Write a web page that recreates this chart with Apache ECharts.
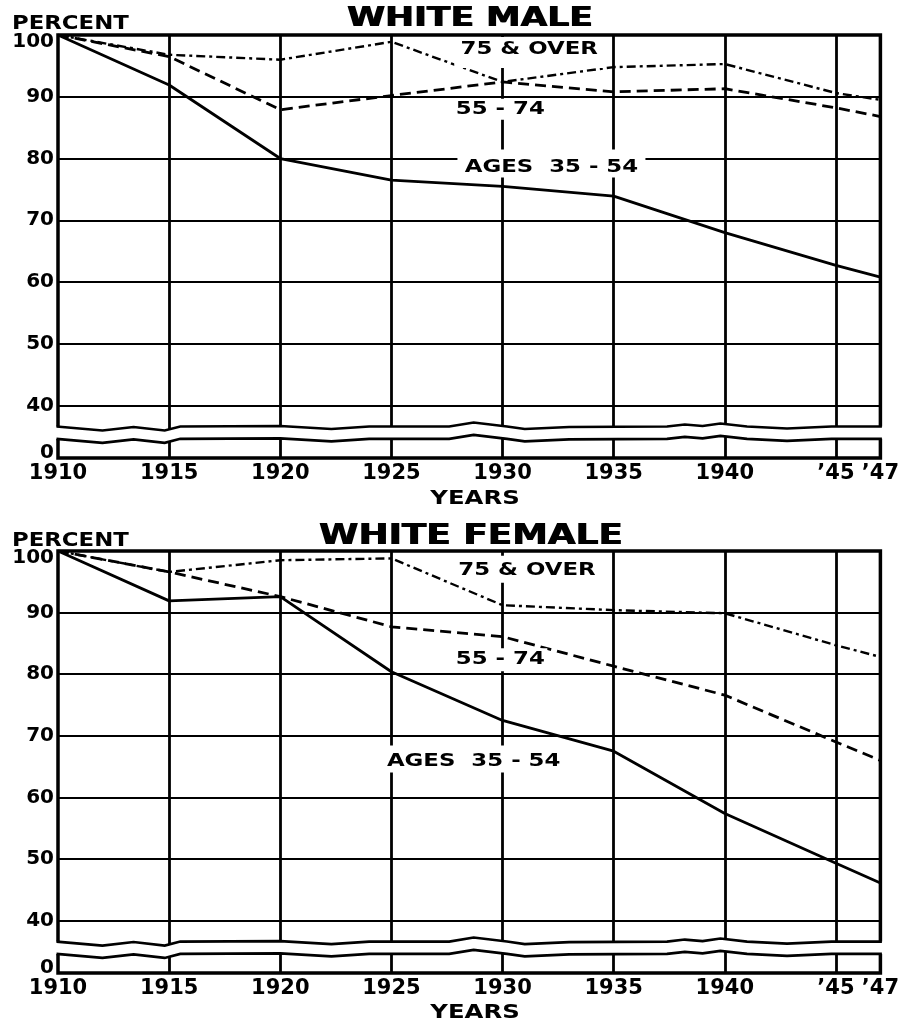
<!DOCTYPE html>
<html><head><meta charset="utf-8">
<script src="https://cdn.jsdelivr.net/npm/echarts@6/dist/echarts.min.js"></script>
<style>html,body{margin:0;padding:0;background:#fff}#c{width:902px;height:1029px}</style>
</head><body><div id="c"></div>
<script>
// ---- data ----
const years = [1910, 1915, 1920, 1925, 1930, 1935, 1940, 1945, 1947];
const maleAges35to54 = [100, 91.9, 80.0, 76.5, 75.5, 73.9, 68.0, 62.7, 60.8];
const male55to74     = [100, 96.5, 87.9, 90.2, 92.4, 90.8, 91.3, 88.2, 86.8];
const male75over     = [100, 96.8, 96.0, 98.9, 92.4, 94.8, 95.3, 90.6, 89.5];
const femaleAges35to54 = [100, 91.9, 92.6, 80.4, 72.5, 67.5, 57.4, 49.3, 46.1];
const female55to74     = [100, 96.6, 92.6, 87.7, 86.1, 81.3, 76.6, 69.0, 66.0];
const female75over     = [100, 96.6, 98.5, 98.8, 91.2, 90.4, 89.9, 84.7, 82.8];

const xTickValues = [1910, 1915, 1920, 1925, 1930, 1935, 1940, 1945, 1947];
const xTickLabels = ['1910', '1915', '1920', '1925', '1930', '1935', '1940', '\u201945', '\u201947'];
const yGridValues = [40, 50, 60, 70, 80, 90];
const yTickLabels = ['0', '40', '50', '60', '70', '80', '90', '100'];
const panelTitles = ['WHITE MALE', 'WHITE FEMALE'];
const groupNames = ['75 & OVER', '55 - 74', 'AGES  35 - 54'];
const yAxisTitle = 'PERCENT';
const xAxisTitle = 'YEARS';

// label anchors (in data units) and white knock-out boxes (pixels relative to anchor: halfWidth, above, below)
const maleLabelAnchors = [[1931.2, 97.8], [1929.9, 88.2], [1932.2, 78.7]];
const femaleLabelAnchors = [[1931.1, 97.1], [1929.9, 82.6], [1928.7, 66.0]];
const maleLabelBoxes = [[75, 11.5, 19.5], [47, 9, 12], [94, 17, 11]];
const femaleLabelBoxes = [[75, 13, 14], [47, 10, 13], [94, 15, 12]];
const breakProfile = [[1910,0],[1912,4],[1913.4,0.5],[1914.8,4],[1915.5,0],[1920,-0.5],[1922.3,2.5],[1924,0],[1927.6,0],[1928.7,-4],[1930.2,0],[1931,2.5],[1933,0.5],[1937.4,0],[1938.2,-2],[1939,-0.5],[1939.8,-3],[1941,0],[1942.8,2],[1944.8,0],[1947,0]];
const breakTop = 36.6, breakBottom = 34.6;

const yMin = 31.5, yMax = 100;
const yLabelValues = [32.4, 40, 50, 60, 70, 80, 90, 98.9];

const chart = echarts.init(document.getElementById('c'), null, {renderer: 'canvas'});
const FONT = '"DejaVu Sans", "Liberation Sans", sans-serif';

function pairs(xs, ys) { return xs.map((x, i) => [x, ys[i]]); }

function makeX(gi) {
  return {
    gridIndex: gi, type: 'value', min: 1910, max: 1947,
    axisLine: {show: false},
    axisTick: {show: false, customValues: xTickValues.slice(1, -1)},
    splitLine: {show: true, lineStyle: {color: '#000', width: 2.8}},
    axisLabel: {
      customValues: xTickValues,
      formatter: v => xTickLabels[xTickValues.indexOf(Math.round(v))] || '',
      fontFamily: FONT, fontWeight: 'bold', fontSize: 21, color: '#000', margin: 5
    }
  };
}
function makeY(gi) {
  return {
    gridIndex: gi, type: 'value', min: yMin, max: yMax,
    axisLine: {show: false},
    axisTick: {show: false, customValues: yGridValues},
    splitLine: {show: true, lineStyle: {color: '#000', width: 2.2}},
    axisLabel: {
      customValues: yLabelValues,
      formatter: v => { let i = yLabelValues.findIndex(t => Math.abs(t - v) < 0.01); return i >= 0 ? yTickLabels[i] : ''; },
      fontFamily: FONT, fontWeight: 'bold', fontSize: 20, color: '#000', margin: 4
    }
  };
}

function lineSeries(gi, data, kind) {
  const ls = {color: '#000', width: 2.8, type: 'solid'};
  if (kind === 'dash') { ls.type = [11, 6]; ls.width = 2.8; }
  if (kind === 'dashdot') { ls.type = [9, 4, 3, 4]; ls.width = 2.4; }
  return {
    type: 'line', xAxisIndex: gi, yAxisIndex: gi, data: pairs(years, data),
    symbol: 'none', lineStyle: ls, z: 2, silent: true, animation: false
  };
}

function breakSeries(gi) {
  return {
    type: 'custom', xAxisIndex: gi, yAxisIndex: gi, z: 3, silent: true, animation: false, clip: false,
    data: [[1910, breakTop]],
    renderItem: (params, api) => {
      const up = breakProfile.map(([yr, off]) => { const p = api.coord([yr, breakTop]); return [p[0], p[1] + off]; });
      const lo = breakProfile.map(([yr, off]) => { const p = api.coord([yr, breakBottom]); return [p[0], p[1] + off]; });
      const ext = (pts, d) => { const c = pts.map(p => p.slice()); c[0][0] -= d; c[c.length - 1][0] += d; return c; };
      const poly = ext(up, 3).concat(ext(lo, 3).reverse());
      return {
        type: 'group', children: [
          {type: 'polygon', shape: {points: poly}, style: {fill: '#fff', stroke: null}},
          {type: 'polyline', shape: {points: ext(up, 1.5)}, style: {fill: null, stroke: '#000', lineWidth: 2.6}},
          {type: 'polyline', shape: {points: ext(lo, 1.5)}, style: {fill: null, stroke: '#000', lineWidth: 2.6}}
        ]
      };
    }
  };
}

function labelSeries(gi, anchors, boxes) {
  return {
    type: 'custom', xAxisIndex: gi, yAxisIndex: gi, z: 4, silent: true, animation: false, clip: false,
    data: anchors,
    renderItem: (params, api) => {
      const p = api.coord([api.value(0), api.value(1)]);
      const b = boxes[params.dataIndex];
      return {
        type: 'group', children: [
          {type: 'rect', shape: {x: p[0] - b[0], y: p[1] - b[1], width: 2 * b[0], height: b[1] + b[2]}, style: {fill: '#fff'}},
          {type: 'text', x: p[0], y: p[1] + 1, scaleX: 1.27,
           style: {text: groupNames[params.dataIndex], font: 'bold 18px ' + FONT, fill: '#000', align: 'center', verticalAlign: 'middle'}}
        ]
      };
    }
  };
}

const titleStyle = (t, size) => ({text: t, font: 'bold ' + size + 'px ' + FONT, fill: '#000', align: 'center', verticalAlign: 'middle'});
const smallStyle = (t, align) => ({text: t, font: 'bold 19px ' + FONT, fill: '#000', align: align, verticalAlign: 'middle'});

const option = {
  backgroundColor: '#fff',
  animation: false,
  grid: [
    {left: 58, top: 35, width: 825, height: 423, show: true, borderColor: '#000', borderWidth: 3.5, backgroundColor: 'transparent'},
    {left: 58, top: 551, width: 825, height: 422, show: true, borderColor: '#000', borderWidth: 3.5, backgroundColor: 'transparent'}
  ],
  xAxis: [makeX(0), makeX(1)],
  yAxis: [makeY(0), makeY(1)],
  series: [
    lineSeries(0, maleAges35to54, 'solid'),
    lineSeries(0, male55to74, 'dash'),
    lineSeries(0, male75over, 'dashdot'),
    lineSeries(1, femaleAges35to54, 'solid'),
    lineSeries(1, female55to74, 'dash'),
    lineSeries(1, female75over, 'dashdot'),
    breakSeries(0), breakSeries(1),
    labelSeries(0, maleLabelAnchors, maleLabelBoxes), labelSeries(1, femaleLabelAnchors, femaleLabelBoxes)
  ],
  graphic: [
    {type: 'text', x: 469.4, y: 19, scaleX: 1.28, style: titleStyle(panelTitles[0], 27)},
    {type: 'text', x: 470.6, y: 19, scaleX: 1.28, style: titleStyle(panelTitles[0], 27)},
    {type: 'text', x: 470.4, y: 537, scaleX: 1.28, style: titleStyle(panelTitles[1], 28)},
    {type: 'text', x: 471.6, y: 537, scaleX: 1.28, style: titleStyle(panelTitles[1], 28)},
    {type: 'text', x: 12, y: 24, scaleX: 1.2, style: smallStyle(yAxisTitle, 'left')},
    {type: 'text', x: 12, y: 541, scaleX: 1.2, style: smallStyle(yAxisTitle, 'left')},
    {type: 'text', x: 475, y: 499, scaleX: 1.28, style: smallStyle(xAxisTitle, 'center')},
    {type: 'text', x: 475, y: 1013, scaleX: 1.28, style: smallStyle(xAxisTitle, 'center')}
  ]
};
chart.setOption(option);
</script>
</body></html>
